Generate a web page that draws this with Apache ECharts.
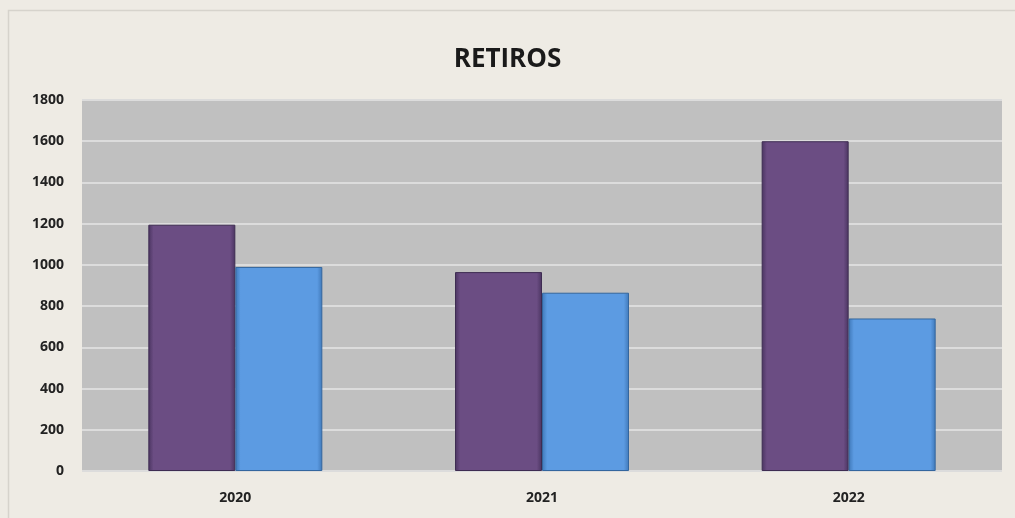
<!DOCTYPE html>
<html>
<head>
<meta charset="utf-8">
<script src="https://cdn.jsdelivr.net/npm/echarts@6/dist/echarts.min.js"></script>
<style>
  html, body { margin: 0; padding: 0; background: #eeebe4; }
  #chart { width: 1015px; height: 518px; }
</style>
</head>
<body>
<div id="chart"></div>
<script>
const years = ['2020', '2021', '2022'];
const serieA = [1195, 965, 1600];
const serieB = [990, 865, 740];
const yTicks = [0, 200, 400, 600, 800, 1000, 1200, 1400, 1600, 1800];

const font = '"Open Sans", "Liberation Sans", sans-serif';

// degradado horizontal para simular el bisel de Excel
const bevel = (edge, mid) => ({
  type: 'linear', x: 0, y: 0, x2: 1, y2: 0,
  colorStops: [
    { offset: 0, color: edge },
    { offset: 0.06, color: mid },
    { offset: 0.94, color: mid },
    { offset: 1, color: edge }
  ]
});

const chart = echarts.init(document.getElementById('chart'));
chart.setOption({
  backgroundColor: '#eeebe4',
  animation: false,
  title: {
    text: 'RETIROS',
    left: 'center',
    top: 42,
    textStyle: { fontFamily: font, fontSize: 26, fontWeight: 'bold', color: '#1a1a1a' }
  },
  graphic: [{
    type: 'rect',
    shape: { x: 8.5, y: 10.5, width: 1030, height: 530 },
    style: { fill: 'none', stroke: '#d6d3cc', lineWidth: 1.5 },
    silent: true
  }],
  grid: { left: 82, right: 13, top: 100, bottom: 47, show: true, backgroundColor: '#c0c0c0', borderWidth: 0 },
  xAxis: {
    type: 'category',
    data: years,
    axisLine: { show: false },
    axisTick: { show: false },
    axisLabel: { fontFamily: font, fontSize: 14, fontWeight: 'bold', color: '#222', margin: 20 }
  },
  yAxis: {
    type: 'value',
    min: yTicks[0],
    max: yTicks[yTicks.length - 1],
    interval: 200,
    axisLine: { show: false },
    axisTick: { show: false },
    axisLabel: { fontFamily: font, fontSize: 14, fontWeight: 'bold', color: '#222', margin: 18, formatter: v => String(v) },
    splitLine: { lineStyle: { color: '#dcdcdc', width: 2 } }
  },
  series: [
    {
      type: 'bar',
      data: serieA,
      barWidth: 87,
      barGap: '0%',
      itemStyle: { color: bevel('#4a3460', '#6b4d83'), borderColor: '#3e2c52', borderWidth: 1 }
    },
    {
      type: 'bar',
      data: serieB,
      barWidth: 87,
      itemStyle: { color: bevel('#3f78b8', '#5c9be2'), borderColor: '#34669e', borderWidth: 1 }
    }
  ]
});
</script>
</body>
</html>
